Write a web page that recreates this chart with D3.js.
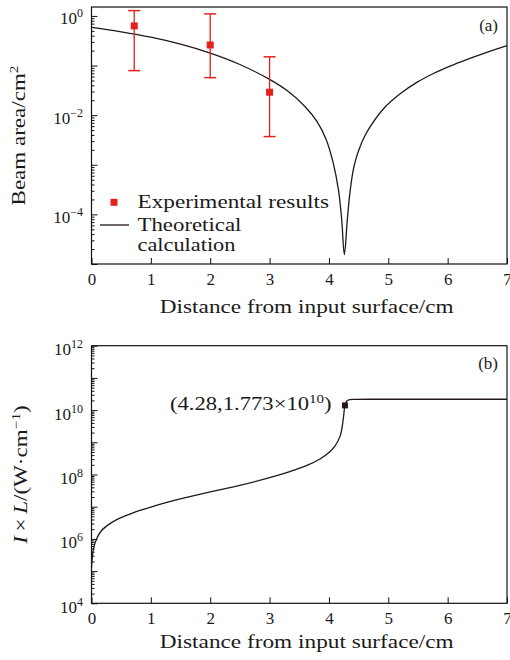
<!DOCTYPE html>
<html>
<head>
<meta charset="utf-8">
<script src="https://cdn.jsdelivr.net/npm/d3@7/dist/d3.min.js"></script>
<style>
    body { margin: 0; background: #fff; }
    text { font-family: 'Liberation Serif', 'Times New Roman', serif; fill: #1a1a1a; }
</style>
</head>
<body>
<div class="chart"></div>
<script>
// Panel (a): beam area vs distance
var expX = [0.72, 2, 3]
var expY = [0.63, 0.26, 0.029]
var expLow = [0.079, 0.057, 0.0037]
var expHigh = [1.28, 1.1, 0.15]

var theoX = [0, 0.5, 1, 1.5, 2, 2.5, 3, 3.3, 3.6, 3.8, 3.95, 4.07, 4.16, 4.215, 4.26,
             4.31, 4.355, 4.41, 4.46, 4.52, 4.6, 4.69, 4.92, 5.2, 5.48, 5.76, 6.04, 6.32, 6.6, 7]
var theoY = [0.589, 0.479, 0.372, 0.269, 0.178, 0.105, 0.0525, 0.0309, 0.0148, 0.00741, 0.00331, 0.00112, 3.16e-4, 7.9e-5, 1.55e-5,
             7.9e-5, 2.8e-4, 7.9e-4, 1.38e-3, 2.24e-3, 3.7e-3, 5.75e-3, 0.0135, 0.0269, 0.0457, 0.0692, 0.0977, 0.132, 0.174, 0.251]

// Panel (b): I x L vs distance
var powX = [0, 0.03, 0.09, 0.17, 0.3, 0.45, 0.7, 1.0, 1.3, 1.6, 2.0, 2.5, 3.0, 3.34, 3.63,
            3.85, 4.0, 4.1, 4.19, 4.24, 4.27, 4.30, 4.35, 4.45, 5, 6, 7]
var powY = [1.26e5, 4.57e5, 1.05e6, 1.82e6, 2.88e6, 4.17e6, 6.46e6, 9.77e6, 1.41e7, 1.95e7, 2.88e7, 4.57e7, 7.94e7, 1.23e8, 1.91e8,
            3.02e8, 4.79e8, 7.59e8, 1.58e9, 5.01e9, 1.38e10, 1.91e10, 2.12e10, 2.16e10, 2.17e10, 2.17e10, 2.17e10]
var peakX = 4.27
var peakY = 1.4e10

var xTicks = [0, 1, 2, 3, 4, 5, 6, 7]
var areaExps = [0, -2, -4]
var powExps = [12, 10, 8, 6, 4]

var red = '#e3211f'
var ink = '#231815'

var svg = d3.select('.chart').append('svg')
    .attr('width', 510)
    .attr('height', 660)

var left = 91.5, right = 507

var x = d3.scaleLinear().domain([0, 7]).range([left, right])

function logTicks(lo, hi) {
    var major = [], minor = []
    for (var e = lo; e <= hi; e++) {
        major.push(Math.pow(10, e))
        if (e < hi) for (var m = 2; m < 10; m++) minor.push(m * Math.pow(10, e))
    }
    return {major: major, minor: minor}
}

// stretch a text along its own direction so it spans `target` px (the
// original figure's serif font is wider than the one installed here)
function stretch(t, target) {
    var w = t.node().getBBox().width
    t.attr('transform', `scale(${target / w}, 1)`)
    return t
}

// text placed in its own group, so it can be rotated and stretched
function label(parent, px, py, rot, anchor, size) {
    return parent.append('g')
        .attr('transform', `translate(${px},${py}) rotate(${rot})`)
        .append('text')
        .attr('text-anchor', anchor)
        .attr('font-size', size)
}

function sup(t, s) {
    t.append('tspan').attr('dy', -7).attr('font-size', '12px').text(s)
}

function supLabel(sel, exps, y, dy) {
    exps.forEach(function (e) {
        var t = sel.append('text')
            .attr('x', 83)
            .attr('y', y(Math.pow(10, e)) + dy)
            .attr('text-anchor', 'end')
            .attr('font-size', '17px')
        t.append('tspan').text('10')
        t.append('tspan').attr('dy', -7).attr('font-size', '12px')
            .text(String(e).replace('-', '\u2212'))
    })
}

function frame(top, bottom, y, decades, exps, labelDy, titleGap) {
    var g = svg.append('g')
    var t = logTicks(decades[0], decades[1])

    g.append('g')
        .attr('transform', `translate(${left},0)`)
        .call(d3.axisLeft(y).tickValues(t.minor).tickSize(-3).tickFormat(''))
    g.append('g')
        .attr('transform', `translate(${left},0)`)
        .call(d3.axisLeft(y).tickValues(t.major).tickSize(-6).tickFormat(''))
    g.append('g')
        .attr('transform', `translate(0,${bottom})`)
        .call(d3.axisBottom(x).tickValues(xTicks).tickSize(-6).tickPadding(9).tickFormat(d3.format('d')))
        .selectAll('text')
        .attr('font-size', '17px')
    g.selectAll('.domain').remove()
    g.selectAll('line').attr('stroke', '#111').attr('stroke-width', 1)
    g.selectAll('.tick text').attr('fill', '#1a1a1a')

    g.append('rect')
        .attr('x', left).attr('y', top)
        .attr('width', right - left).attr('height', bottom - top)
        .attr('fill', 'none').attr('stroke', '#111').attr('stroke-width', 1.2)

    supLabel(g, exps, y, labelDy)

    var xt = label(g, (left + right) / 2 + 7.5, bottom + titleGap, 0, 'middle', '18px')
        .text('Distance from input surface/cm')
    stretch(xt, 294)
    return g
}

// ---------- Panel (a) ----------
var topA = 7, botA = 264
var yA = d3.scaleLog().domain([1e-5, Math.pow(10, 0.18)]).range([botA, topA])
var gA = frame(topA, botA, yA, [-5, 0], areaExps, 8.5, 49)

var lineA = d3.line()
    .x((d, i) => x(theoX[i]))
    .y((d, i) => yA(theoY[i]))
    .curve(d3.curveCatmullRom.alpha(0.5))
gA.append('path')
    .attr('d', lineA(theoX))
    .attr('fill', 'none')
    .attr('stroke', ink)
    .attr('stroke-width', 1.3)

var bars = gA.append('g')
expX.forEach(function (v, i) {
    bars.append('line')
        .attr('x1', x(v)).attr('x2', x(v))
        .attr('y1', yA(expLow[i])).attr('y2', yA(expHigh[i]))
        .attr('stroke', red).attr('stroke-width', 1.3)
    ;[expLow[i], expHigh[i]].forEach(function (c) {
        bars.append('line')
            .attr('x1', x(v) - 6).attr('x2', x(v) + 6)
            .attr('y1', yA(c)).attr('y2', yA(c))
            .attr('stroke', red).attr('stroke-width', 1.5)
    })
    bars.append('rect')
        .attr('x', x(v) - 3.5).attr('y', yA(expY[i]) - 3.5)
        .attr('width', 7).attr('height', 7)
        .attr('fill', red)
})

// legend
gA.append('rect').attr('x', 110.5).attr('y', 198.8).attr('width', 7).attr('height', 7).attr('fill', red)
stretch(label(gA, 137.5, 207.5, 0, 'start', '18px').text('Experimental results'), 191.5)
gA.append('line').attr('x1', 100).attr('x2', 129).attr('y1', 225).attr('y2', 225)
    .attr('stroke', ink).attr('stroke-width', 1.3)
stretch(label(gA, 137.5, 230.5, 0, 'start', '18px').text('Theoretical'), 104)
stretch(label(gA, 137.5, 250.5, 0, 'start', '18px').text('calculation'), 98)

gA.append('text').attr('x', 498).attr('y', 31).attr('text-anchor', 'end')
    .attr('font-size', '17px').text('(a)')

var labA = label(gA, 24.5, (topA + botA) / 2, -90, 'middle', '18px')
labA.append('tspan').text('Beam area/cm')
sup(labA, '2')
stretch(labA, 140)

// ---------- Panel (b) ----------
var topB = 345.7, botB = 603.3
var yB = d3.scaleLog().domain([1e4, 1e12]).range([botB, topB])
var gB = frame(topB, botB, yB, [4, 12], powExps, 9.5, 45)

var lineB = d3.line()
    .x((d, i) => x(powX[i]))
    .y((d, i) => yB(powY[i]))
    .curve(d3.curveCatmullRom.alpha(0.5))
gB.append('path')
    .attr('d', lineB(powX))
    .attr('fill', 'none')
    .attr('stroke', ink)
    .attr('stroke-width', 1.3)

gB.append('rect')
    .attr('x', x(peakX) - 3).attr('y', yB(peakY) - 3)
    .attr('width', 6).attr('height', 6)
    .attr('fill', ink)

var ann = label(gB, 170, 410, 0, 'start', '18px')
ann.append('tspan').text('(4.28,1.773\u00d710')
sup(ann, '10')
ann.append('tspan').attr('dy', 7).text(')')
stretch(ann, 161.7)

gB.append('text').attr('x', 498).attr('y', 369).attr('text-anchor', 'end')
    .attr('font-size', '17px').text('(b)')

var labB = label(gB, 27, (topB + botB) / 2, -90, 'middle', '18px')
labB.append('tspan').attr('font-style', 'italic').text('I')
labB.append('tspan').text('\u2009\u00d7\u2009')
labB.append('tspan').attr('font-style', 'italic').text('L')
labB.append('tspan').text('/(W\u00b7cm')
sup(labB, '\u22121')
labB.append('tspan').attr('dy', 7).text(')')
stretch(labB, 140)
</script>
</body>
</html>
